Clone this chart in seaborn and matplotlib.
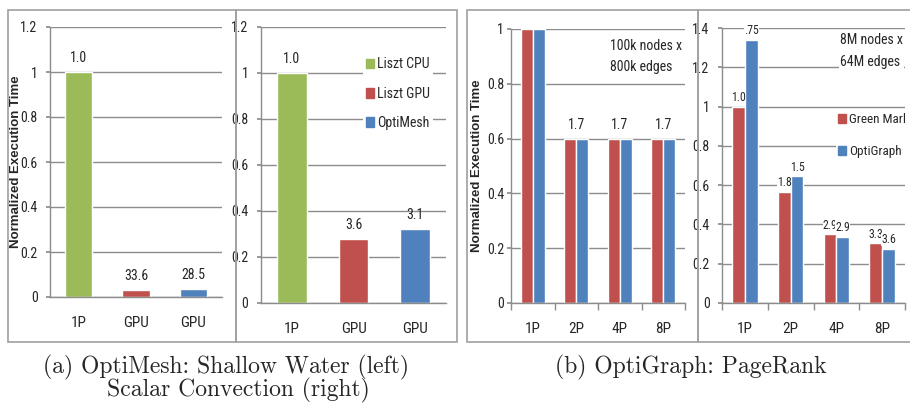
import matplotlib
matplotlib.use('Agg')
import matplotlib.pyplot as plt
import matplotlib.patches as mpatches
from matplotlib import font_manager
import pandas as pd
import seaborn as sns

# data
mesh_series = ['Liszt CPU', 'Liszt GPU', 'OptiMesh']
mesh_ticks = ['1P', 'GPU', 'GPU']
shallow_water = [1.0, 0.030, 0.035]
shallow_labels = ['1.0', '33.6', '28.5']
scalar_conv = [1.0, 0.278, 0.323]
scalar_labels = ['1.0', '3.6', '3.1']

graph_series = ['Green Marl', 'OptiGraph']
threads = ['1P', '2P', '4P', '8P']
small_gm = [1.0, 0.6, 0.6, 0.6]
small_og = [1.0, 0.6, 0.6, 0.6]
small_labels = ['', '1.7', '1.7', '1.7']
big_gm = [1.0, 0.565, 0.349, 0.304]
big_og = [1.338, 0.645, 0.337, 0.276]
big_gm_labels = ['1.0', '1.8', '2.9', '3.3']
big_og_labels = ['.75', '1.5', '2.9', '3.6']

colors = {'Liszt CPU': '#9BBB59', 'Liszt GPU': '#C0504D', 'OptiMesh': '#4F81BD',
          'Green Marl': '#C0504D', 'OptiGraph': '#4F81BD'}
gray = '#8C8C8C'

# narrow Calibri-like face if there is one
installed = {f.name for f in font_manager.fontManager.ttflist}
narrow = [n for n in ['Liberation Sans Narrow', 'Roboto Condensed', 'DejaVu Sans Condensed',
                      'Open Sans Condensed'] if n in installed]
base = narrow[0] if narrow else 'Lato'
fs = 10 if narrow else 9

sns.set_theme(style='white')
plt.rcParams['font.family'] = [base, 'DejaVu Sans']
plt.rcParams['font.size'] = fs

fig = plt.figure(figsize=(9.1, 4.03), dpi=100)
W, H = 910, 403


def add_ax(x0, y0, x1, y1):
    return fig.add_axes([x0 / W, 1 - y1 / H, (x1 - x0) / W, (y1 - y0) / H])


def style(ax, top, step, xticks_between=False, ypad=6):
    ax.set_ylim(0, top)
    ticks = [round(i * step, 2) for i in range(int(round(top / step)) + 1)]
    ax.set_yticks(ticks)
    ax.set_yticklabels([f'{t:g}' for t in ticks], fontsize=fs)
    ax.yaxis.grid(True, color=gray, linewidth=1)
    ax.set_axisbelow(True)
    for s in ['top', 'right']:
        ax.spines[s].set_visible(False)
    for s in ['left', 'bottom']:
        ax.spines[s].set_color(gray)
        ax.spines[s].set_linewidth(1)
    ax.tick_params(axis='y', left=True, length=3, color=gray, pad=ypad)
    ax.tick_params(axis='x', bottom=False, labelsize=fs + 1, pad=8)
    ax.set_xlabel('')
    ax.set_ylabel('')
    if xticks_between:
        n = len(ax.get_xticks())
        ax.set_xticks([i - 0.5 for i in range(n + 1)], minor=True)
        ax.tick_params(axis='x', which='minor', bottom=True, length=5, color=gray)


def mesh_panel(ax, vals, labels):
    df = pd.DataFrame({'series': mesh_series, 'value': vals})
    sns.barplot(data=df, x='series', y='value', hue='series', palette=colors,
                width=0.48, legend=False, ax=ax, saturation=1)
    for cont, lab in zip(ax.containers, labels):
        ax.bar_label(cont, labels=[lab], padding=5, fontsize=fs)
    ax.set_xlim(-0.5, 2.5)
    ax.set_xticks(range(3))
    ax.set_xticklabels(mesh_ticks)


def white_legend(ax, names, anchor, spacing, size):
    handles = [mpatches.Patch(color=colors[s], label=s) for s in names]
    leg = ax.legend(handles=handles, loc='upper left', bbox_to_anchor=anchor,
                    frameon=True, fontsize=size, handlelength=0.55, handleheight=0.7,
                    handletextpad=0.25, labelspacing=spacing, borderpad=0.2)
    leg.get_frame().set_edgecolor('none')
    leg.get_frame().set_facecolor('white')
    leg.get_frame().set_alpha(1)


def ylab(ax, xpos):
    ax.set_ylabel('Normalized Execution Time', fontsize=9.5, fontweight='bold',
                  family=['Liberation Sans', 'DejaVu Sans'])
    ax.yaxis.set_label_coords(xpos, 0.5)


# panel (a) left: shallow water
ax1 = add_ax(50, 27, 222, 297)
mesh_panel(ax1, shallow_water, shallow_labels)
style(ax1, 1.2, 0.2)
ylab(ax1, -0.165)

# panel (a) right: scalar convection
ax2 = add_ax(261, 27, 446, 303)
mesh_panel(ax2, scalar_conv, scalar_labels)
style(ax2, 1.2, 0.2)
white_legend(ax2, mesh_series, (0.515, 0.925), 1.1, fs)


def graph_panel(ax, gm, og):
    df = pd.DataFrame({'threads': threads * 2,
                       'series': [graph_series[0]] * 4 + [graph_series[1]] * 4,
                       'value': gm + og})
    sns.barplot(data=df, x='threads', y='value', hue='series', palette=colors,
                width=0.56, legend=False, ax=ax, saturation=1, gap=0)
    ax.set_xlim(-0.5, 3.5)


# panel (b) left: small graph
ax3 = add_ax(511, 29, 685, 303)
graph_panel(ax3, small_gm, small_og)
style(ax3, 1.0, 0.2, xticks_between=True, ypad=2)
for i, lab in enumerate(small_labels):
    if lab:
        ax3.annotate(lab, (i, max(small_gm[i], small_og[i])), xytext=(0, 5),
                     textcoords='offset points', ha='center', va='bottom', fontsize=fs)
ax3.text(0.57, 0.965, '100k nodes x\n800k edges', transform=ax3.transAxes,
         ha='left', va='top', fontsize=fs, linespacing=1.7,
         bbox=dict(facecolor='white', edgecolor='none', pad=1))
ylab(ax3, -0.16)

# panel (b) right: big graph
ax4 = add_ax(722, 28, 905, 303)
graph_panel(ax4, big_gm, big_og)
style(ax4, 1.4, 0.2, xticks_between=True)
for cont, labs in zip(ax4.containers, [big_gm_labels, big_og_labels]):
    ax4.bar_label(cont, labels=labs, padding=2, fontsize=fs - 1.5,
                  bbox=dict(facecolor='white', edgecolor='none', pad=0))
ax4.text(0.645, 0.98, '8M nodes x\n64M edges', transform=ax4.transAxes,
         ha='left', va='top', fontsize=fs, linespacing=1.7,
         bbox=dict(facecolor='white', edgecolor='none', pad=1))
white_legend(ax4, graph_series, (0.585, 0.725), 1.45, fs - 0.5)

# chart area frames
for x0, x1 in [(8, 236), (236, 457), (467, 698), (698, 912)]:
    fig.add_artist(mpatches.Rectangle((x0 / W, 1 - 342 / H), (x1 - x0) / W, 332 / H,
                                      transform=fig.transFigure, fill=False,
                                      edgecolor='#A0A0A0', linewidth=1.2))

# captions
fig.text(226 / W, 1 - 367 / H, '(a) OptiMesh: Shallow Water (left)',
         ha='center', va='center', family='cmr10', fontsize=17)
fig.text(238 / W, 1 - 390 / H, 'Scalar Convection (right)',
         ha='center', va='center', family='cmr10', fontsize=17)
fig.text(691 / W, 1 - 367 / H, '(b) OptiGraph: PageRank',
         ha='center', va='center', family='cmr10', fontsize=17)

fig.savefig('out.png', dpi=100)
